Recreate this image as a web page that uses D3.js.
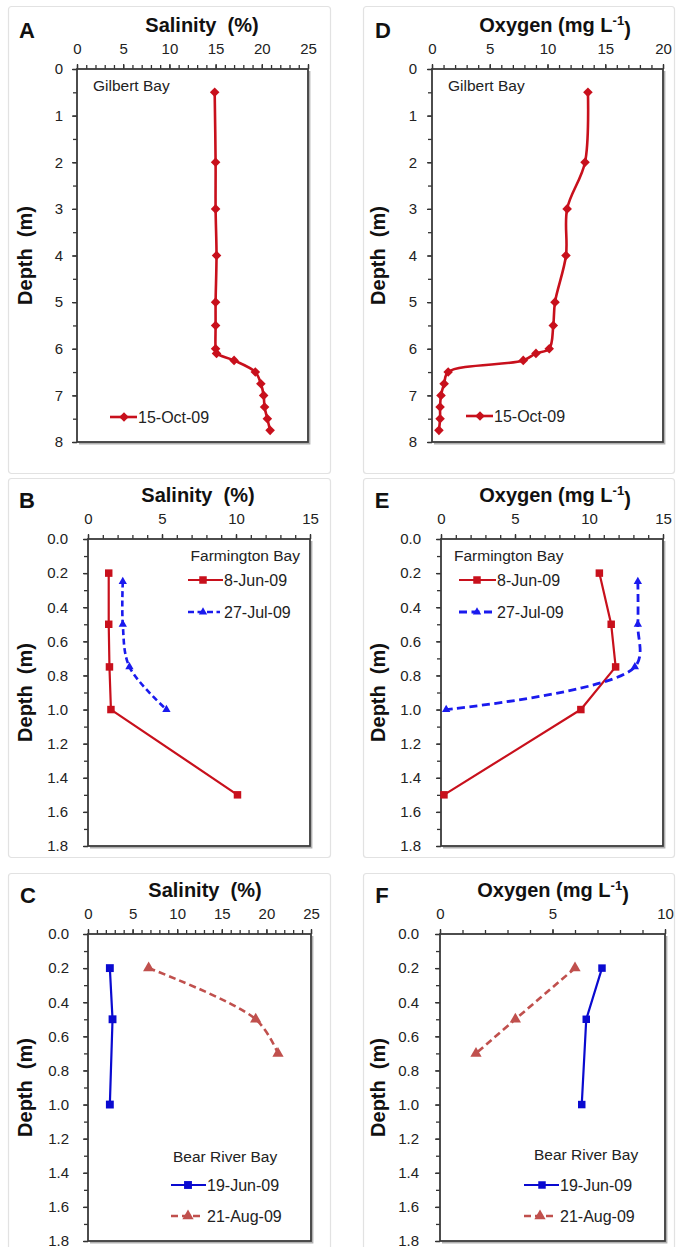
<!DOCTYPE html>
<html>
<head>
<meta charset="utf-8">
<script src="https://cdn.jsdelivr.net/npm/d3@7"></script>
<style>
  body { margin: 0; background: #fff; }
  svg { display: block; font-family: "Liberation Sans", Arial, sans-serif; }
</style>
</head>
<body>
<svg id="fig" width="678" height="1247"></svg>
<script>
// ---- Gilbert Bay, 15-Oct-09 ----
const gilbertDepth    = [0.5, 2, 3, 4, 5, 5.5, 6, 6.1, 6.25, 6.5, 6.75, 7, 7.25, 7.5, 7.75];
const gilbertSalinity = [14.9, 15.0, 15.0, 15.1, 15.0, 15.0, 15.0, 15.1, 17.0, 19.3, 19.9, 20.2, 20.3, 20.6, 20.9];
const gilbertOxygen   = [13.5, 13.25, 11.7, 11.6, 10.65, 10.5, 10.15, 9.0, 7.9, 1.4, 1.05, 0.78, 0.7, 0.7, 0.6];

// ---- Farmington Bay ----
const farmJunDepth    = [0.2, 0.5, 0.75, 1.0, 1.5];
const farmJunSalinity = [1.4, 1.4, 1.45, 1.55, 10.1];
const farmJunOxygen   = [10.7, 11.5, 11.8, 9.45, 0.2];
const farmJulDepth    = [0.25, 0.5, 0.75, 1.0];
const farmJulSalinity = [2.35, 2.35, 2.8, 5.3];
const farmJulOxygen   = [13.3, 13.3, 13.1, 0.35];

// ---- Bear River Bay ----
const bearJunDepth    = [0.2, 0.5, 1.0];
const bearJunSalinity = [2.45, 2.75, 2.45];
const bearJunOxygen   = [7.2, 6.5, 6.3];
const bearAugDepth    = [0.2, 0.5, 0.7];
const bearAugSalinity = [6.8, 18.8, 21.3];
const bearAugOxygen   = [6.0, 3.35, 1.6];

// ---- tick labels ----
const salinityTicks25 = [0, 5, 10, 15, 20, 25];
const salinityTicks15 = [0, 5, 10, 15];
const oxygenTicks20   = [0, 5, 10, 15, 20];
const oxygenTicks15   = [0, 5, 10, 15];
const oxygenTicks10   = [0, 5, 10];
const depthTicksDeep    = [0, 1, 2, 3, 4, 5, 6, 7, 8];
const depthTicksShallow = [0, 0.2, 0.4, 0.6, 0.8, 1.0, 1.2, 1.4, 1.6, 1.8];

// ---- series labels ----
const gilbertLabels = ["15-Oct-09"];
const farmLabels    = ["8-Jun-09", "27-Jul-09"];
const bearLabels    = ["19-Jun-09", "21-Aug-09"];
const bayNames      = ["Gilbert Bay", "Farmington Bay", "Bear River Bay"];

const svg = d3.select("#fig");
const TEXT = "#222";
const RED = "#c8101c";
const BLUE = "#1a1aee";
const DEEPBLUE = "#0a0ad0";
const ROSE = "#c0504d";

// light outer frames around each panel
[[8, 6, 322, 467], [363, 6, 311, 467], [8, 478, 322, 379], [363, 478, 311, 379],
 [8, 873, 322, 390], [363, 873, 311, 390]].forEach(([fx, fy, fw, fh]) => {
  svg.append("rect").attr("x", fx + 0.5).attr("y", fy + 0.5).attr("width", fw).attr("height", fh)
    .attr("rx", 3).attr("fill", "none").attr("stroke", "#e2e2e2").attr("stroke-width", 1.2);
});

function markerPath(kind) {
  if (kind === "diamond") return d3.symbol(d3.symbolSquare, 46)();
  if (kind === "square") return d3.symbol(d3.symbolSquare, 56)();
  if (kind === "square-lg") return d3.symbol(d3.symbolSquare, 62)();
  if (kind === "tri") return d3.symbol(d3.symbolTriangle, 30)();
  if (kind === "tri-lg") return d3.symbol(d3.symbolTriangle, 55)();
}
function markerRotate(kind) { return kind === "diamond" ? 45 : 0; }

function drawPanel(p) {
  const g = svg.append("g");
  const x = d3.scaleLinear().domain(p.xDomain).range([p.left, p.right]);
  const y = d3.scaleLinear().domain(p.yDomain).range([p.top, p.bottom]);

  // minor ticks
  const xMinor = d3.range(p.xDomain[0], p.xDomain[1] + 1e-9, p.xMinor);
  const yMinor = d3.range(p.yDomain[0], p.yDomain[1] + 1e-9, p.yMinor);
  const ax1 = g.append("g").attr("transform", `translate(0,${p.top})`)
    .call(d3.axisTop(x).tickValues(xMinor).tickSize(4).tickFormat(""));
  const ay1 = g.append("g").attr("transform", `translate(${p.left},0)`)
    .call(d3.axisLeft(y).tickValues(yMinor).tickSize(4).tickFormat(""));

  // major ticks + labels
  const ax2 = g.append("g").attr("transform", `translate(0,${p.top})`)
    .call(d3.axisTop(x).tickValues(p.xTicks).tickSize(5).tickPadding(10).tickFormat(d3.format("d")));
  const ay2 = g.append("g").attr("transform", `translate(${p.left},0)`)
    .call(d3.axisLeft(y).tickValues(p.yTicks).tickSize(5).tickPadding(p.yPad).tickFormat(d3.format(p.yFmt)));

  [ax1, ay1, ax2, ay2].forEach(a => {
    a.select(".domain").remove();
    a.selectAll(".tick line").attr("stroke", "#333").attr("stroke-width", 1.3);
    a.selectAll("text").attr("fill", TEXT).attr("font-size", 15)
      .attr("font-family", "'Liberation Sans', Arial, sans-serif");
  });

  // plot frame with a soft shadow on right/bottom
  g.append("path")
    .attr("d", `M${p.right + 1.6},${p.top + 2} V${p.bottom + 1.6} H${p.left + 2}`)
    .attr("fill", "none").attr("stroke", "#b0b0b0").attr("stroke-width", 1.6);
  g.append("rect").attr("x", p.left).attr("y", p.top)
    .attr("width", p.right - p.left).attr("height", p.bottom - p.top)
    .attr("fill", "none").attr("stroke", "#3a3a3a").attr("stroke-width", 1.8);

  // series
  p.series.forEach(s => {
    const pts = d3.zip(s.values, s.depths);
    const line = d3.line().x(d => x(d[0])).y(d => y(d[1]))
      .curve(s.smooth ? d3.curveCatmullRom.alpha(0.5) : d3.curveLinear);
    g.append("path").attr("d", line(pts)).attr("fill", "none")
      .attr("stroke", s.color).attr("stroke-width", s.width)
      .attr("stroke-dasharray", s.dash || null).attr("stroke-linejoin", "round");
    g.selectAll(null).data(pts).join("path")
      .attr("d", markerPath(s.marker))
      .attr("transform", d => `translate(${x(d[0])},${y(d[1])}) rotate(${markerRotate(s.marker)})`)
      .attr("fill", s.color);
  });

  // legend
  p.legend.forEach((l, i) => {
    const s = p.series[i];
    g.append("line").attr("x1", l.x1).attr("x2", l.x2).attr("y1", l.y).attr("y2", l.y)
      .attr("stroke", s.color).attr("stroke-width", s.width).attr("stroke-dasharray", s.dash || null);
    g.append("path").attr("d", markerPath(s.marker))
      .attr("transform", `translate(${l.mx},${l.y}) rotate(${markerRotate(s.marker)})`)
      .attr("fill", s.color);
    g.append("text").attr("x", l.tx).attr("y", l.y).attr("dy", "0.36em")
      .attr("font-size", 16).attr("fill", TEXT).text(s.label);
  });

  // site name
  g.append("text").attr("x", p.site.x).attr("y", p.site.y).attr("dy", "0.36em")
    .attr("text-anchor", p.site.anchor).attr("font-size", 15.5).attr("fill", TEXT)
    .style("white-space", "pre").text(p.site.text);

  // panel letter
  g.append("text").attr("x", p.letterX).attr("y", p.top - 39).attr("dy", "0.36em")
    .attr("text-anchor", "middle").attr("font-size", 22).attr("font-weight", "bold")
    .attr("fill", "#111").text(p.letter);

  // axis title (top)
  const t = g.append("text").attr("x", p.titleX).attr("y", p.top - 44).attr("dy", "0.36em")
    .attr("text-anchor", "middle").attr("font-size", 20).attr("font-weight", "bold")
    .attr("fill", "#111").style("white-space", "pre");
  if (p.oxygen) {
    t.append("tspan").text("Oxygen (mg L");
    t.append("tspan").attr("font-size", 13).attr("dy", "-0.55em").text("-1");
    t.append("tspan").attr("dy", "0.55em").text(")");
  } else {
    t.text("Salinity  (%)");
  }

  // depth label
  const cy = (p.top + p.bottom) / 2;
  g.append("text").attr("transform", `translate(${p.ylabX},${cy}) rotate(-90)`)
    .attr("dy", "0.36em").attr("text-anchor", "middle").attr("font-size", 20)
    .attr("font-weight", "bold").attr("fill", "#111").style("white-space", "pre")
    .text("Depth  (m)");
}

// Panel A: Gilbert Bay salinity
drawPanel({
  letter: "A", letterX: 27, titleX: 202, ylabX: 25, oxygen: false,
  left: 77, right: 308, top: 69, bottom: 442,
  xDomain: [0, 25], xTicks: salinityTicks25, xMinor: 1,
  yDomain: [0, 8], yTicks: depthTicksDeep, yMinor: 0.5, yFmt: "d", yPad: 9,
  site: { text: bayNames[0], x: 93, y: 85, anchor: "start" },
  series: [{ values: gilbertSalinity, depths: gilbertDepth, color: RED, width: 2.6,
             marker: "diamond", smooth: true, label: gilbertLabels[0] }],
  legend: [{ x1: 110, x2: 137, mx: 124, tx: 138, y: 417 }]
});

// Panel D: Gilbert Bay oxygen
drawPanel({
  letter: "D", letterX: 383, titleX: 555, ylabX: 378, oxygen: true,
  left: 432, right: 663, top: 69, bottom: 442,
  xDomain: [0, 20], xTicks: oxygenTicks20, xMinor: 1,
  yDomain: [0, 8], yTicks: depthTicksDeep, yMinor: 0.5, yFmt: "d", yPad: 10,
  site: { text: bayNames[0], x: 448, y: 85, anchor: "start" },
  series: [{ values: gilbertOxygen, depths: gilbertDepth, color: RED, width: 2.6,
             marker: "diamond", smooth: true, label: gilbertLabels[0] }],
  legend: [{ x1: 466, x2: 493, mx: 480, tx: 494, y: 416 }]
});

// Panel B: Farmington Bay salinity
drawPanel({
  letter: "B", letterX: 27, titleX: 198, ylabX: 25, oxygen: false,
  left: 88, right: 310, top: 539, bottom: 846,
  xDomain: [0, 15], xTicks: salinityTicks15, xMinor: 1,
  yDomain: [0, 1.8], yTicks: depthTicksShallow, yMinor: 0.1, yFmt: ".1f", yPad: 15,
  site: { text: bayNames[1], x: 300, y: 555, anchor: "end" },
  series: [
    { values: farmJunSalinity, depths: farmJunDepth, color: RED, width: 2.2,
      marker: "square", smooth: false, label: farmLabels[0] },
    { values: farmJulSalinity, depths: farmJulDepth, color: BLUE, width: 2.6, dash: "6,3.5",
      marker: "tri", smooth: true, label: farmLabels[1] }
  ],
  legend: [
    { x1: 188, x2: 223, mx: 203, tx: 224, y: 580 },
    { x1: 188, x2: 220, mx: 203, tx: 224, y: 612 }
  ]
});

// Panel E: Farmington Bay oxygen
drawPanel({
  letter: "E", letterX: 382, titleX: 555, ylabX: 378, oxygen: true,
  left: 441, right: 663, top: 539, bottom: 846,
  xDomain: [0, 15], xTicks: oxygenTicks15, xMinor: 1,
  yDomain: [0, 1.8], yTicks: depthTicksShallow, yMinor: 0.1, yFmt: ".1f", yPad: 15,
  site: { text: bayNames[1], x: 454, y: 555, anchor: "start" },
  series: [
    { values: farmJunOxygen, depths: farmJunDepth, color: RED, width: 2.2,
      marker: "square", smooth: false, label: farmLabels[0] },
    { values: farmJulOxygen, depths: farmJulDepth, color: BLUE, width: 2.8, dash: "8,4.5",
      marker: "tri", smooth: true, label: farmLabels[1] }
  ],
  legend: [
    { x1: 459, x2: 496, mx: 477, tx: 497, y: 580 },
    { x1: 459, x2: 493, mx: 477, tx: 497, y: 612 }
  ]
});

// Panel C: Bear River Bay salinity
drawPanel({
  letter: "C", letterX: 28, titleX: 205, ylabX: 25, oxygen: false,
  left: 88, right: 311, top: 934, bottom: 1241,
  xDomain: [0, 25], xTicks: salinityTicks25, xMinor: 1,
  yDomain: [0, 1.8], yTicks: depthTicksShallow, yMinor: 0.1, yFmt: ".1f", yPad: 14,
  site: { text: bayNames[2], x: 173, y: 1156, anchor: "start" },
  series: [
    { values: bearJunSalinity, depths: bearJunDepth, color: DEEPBLUE, width: 2.2,
      marker: "square-lg", smooth: false, label: bearLabels[0] },
    { values: bearAugSalinity, depths: bearAugDepth, color: ROSE, width: 2.6, dash: "7,4",
      marker: "tri-lg", smooth: true, label: bearLabels[1] }
  ],
  legend: [
    { x1: 171, x2: 206, mx: 188, tx: 207, y: 1185 },
    { x1: 171, x2: 203, mx: 188, tx: 207, y: 1216 }
  ]
});

// Panel F: Bear River Bay oxygen
drawPanel({
  letter: "F", letterX: 382, titleX: 553, ylabX: 378, oxygen: true,
  left: 440, right: 665, top: 934, bottom: 1241,
  xDomain: [0, 10], xTicks: oxygenTicks10, xMinor: 1,
  yDomain: [0, 1.8], yTicks: depthTicksShallow, yMinor: 0.1, yFmt: ".1f", yPad: 16,
  site: { text: bayNames[2], x: 534, y: 1154, anchor: "start" },
  series: [
    { values: bearJunOxygen, depths: bearJunDepth, color: DEEPBLUE, width: 2.2,
      marker: "square", smooth: false, label: bearLabels[0] },
    { values: bearAugOxygen, depths: bearAugDepth, color: ROSE, width: 2.6, dash: "7,4",
      marker: "tri-lg", smooth: true, label: bearLabels[1] }
  ],
  legend: [
    { x1: 524, x2: 559, mx: 542, tx: 560, y: 1185 },
    { x1: 524, x2: 555, mx: 540, tx: 560, y: 1216 }
  ]
});
</script>
</body>
</html>
